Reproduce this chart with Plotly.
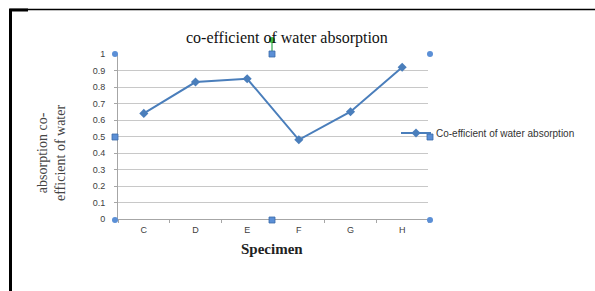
import plotly.graph_objects as go

categories = ["C", "D", "E", "F", "G", "H"]
values = [0.64, 0.83, 0.85, 0.48, 0.65, 0.92]
y_ticks = [0, 0.1, 0.2, 0.3, 0.4, 0.5, 0.6, 0.7, 0.8, 0.9, 1]
y_tick_text = ["0", "0.1", "0.2", "0.3", "0.4", "0.5", "0.6", "0.7", "0.8", "0.9", "1"]
series_name = "Co-efficient of water absorption"
chart_title = "co-efficient of water absorption"
x_title = "Specimen"
y_title = "absorption co-<br>efficient of water"

W, H = 595, 291
L, R, T, B = 118, 428, 54, 219


def px(x):
    return (x - L) / (R - L)


def py(y):
    return (B - y) / (B - T)


BLUE = "#4a7ebb"

fig = go.Figure()
fig.add_trace(go.Scatter(
    x=categories, y=values, name=series_name,
    mode="lines+markers",
    line=dict(color=BLUE, width=2),
    marker=dict(symbol="diamond", size=7, color=BLUE),
))

shapes = []
# frame
shapes.append(dict(type="line", xref="paper", yref="paper", x0=px(10), x1=px(600), y0=py(9.5), y1=py(9.5),
                   line=dict(color="black", width=1.5)))
shapes.append(dict(type="line", xref="paper", yref="paper", x0=px(10.5), x1=px(10.5), y0=py(9), y1=py(300),
                   line=dict(color="black", width=3)))
shapes.append(dict(type="line", xref="paper", yref="paper", x0=px(9), x1=px(28), y0=py(10), y1=py(10),
                   line=dict(color="black", width=3)))
# selection handles
HANDLE = "#5b8fd6"
shapes.append(dict(type="line", xref="paper", yref="paper", x0=px(272), x1=px(272), y0=py(40), y1=py(54),
                   line=dict(color="#2fa84f", width=1.2)))
for (hx, hy) in [(115, 54), (430, 54), (115, 220), (430, 220)]:
    shapes.append(dict(type="circle", xref="paper", yref="paper", xsizemode="pixel", ysizemode="pixel",
                       xanchor=px(hx), yanchor=py(hy), x0=-3, x1=3, y0=-3, y1=3,
                       fillcolor=HANDLE, line=dict(width=0)))
for (hx, hy) in [(115, 137), (430, 137), (272, 54), (272, 220)]:
    shapes.append(dict(type="rect", xref="paper", yref="paper", xsizemode="pixel", ysizemode="pixel",
                       xanchor=px(hx), yanchor=py(hy), x0=-3, x1=3, y0=-3, y1=3,
                       fillcolor=HANDLE, line=dict(color="#3a6aa8", width=0.8)))
shapes.append(dict(type="circle", xref="paper", yref="paper", xsizemode="pixel", ysizemode="pixel",
                   xanchor=px(272), yanchor=py(40), x0=-3, x1=3, y0=-3, y1=3,
                   fillcolor="#3fbf3f", line=dict(width=0)))

annotations = [
    dict(text=chart_title, xref="paper", yref="paper", x=px(287), y=py(38), showarrow=False,
         xanchor="center", yanchor="middle",
         font=dict(family="Liberation Serif", size=16, color="#111")),
    dict(text="<b>" + x_title + "</b>", xref="paper", yref="paper", x=px(272), y=py(249), showarrow=False,
         xanchor="center", yanchor="middle",
         font=dict(family="Liberation Serif", size=15, color="#222")),
    dict(text=y_title, xref="paper", yref="paper", x=px(51), y=py(153), showarrow=False, textangle=-90,
         xanchor="center", yanchor="middle",
         font=dict(family="Liberation Serif", size=14, color="#444")),
]

fig.update_layout(
    width=W, height=H,
    margin=dict(l=L, r=W - R, t=T, b=H - B, pad=0),
    paper_bgcolor="white", plot_bgcolor="white",
    shapes=shapes, annotations=annotations,
    showlegend=True,
    legend=dict(x=px(396), y=py(133), xanchor="left", yanchor="middle",
                bgcolor="rgba(0,0,0,0)", font=dict(family="Liberation Sans", size=10, color="#333"),
                itemwidth=30),
    xaxis=dict(type="category", categoryorder="array", categoryarray=categories,
               range=[-0.5, len(categories) - 0.5],
               showgrid=False, showline=True, linecolor="#a6a6a6", linewidth=1,
               ticks="outside", ticklen=3, tickcolor="#a6a6a6", tickson="boundaries",
               ticklabelstandoff=2,
               tickfont=dict(family="Liberation Sans", size=9, color="#404040")),
    yaxis=dict(range=[0, 1], tickvals=y_ticks, ticktext=y_tick_text,
               showgrid=True, gridcolor="#c8c8c8", gridwidth=1, zeroline=False,
               showline=True, linecolor="#a6a6a6", linewidth=1,
               ticks="outside", ticklen=3, tickcolor="#a6a6a6",
               ticklabelstandoff=7,
               tickfont=dict(family="Liberation Sans", size=9, color="#404040")),
)

fig.write_html("out.html", config={"displayModeBar": False},
               post_script="document.body.style.margin='0';document.body.style.overflow='hidden';")
